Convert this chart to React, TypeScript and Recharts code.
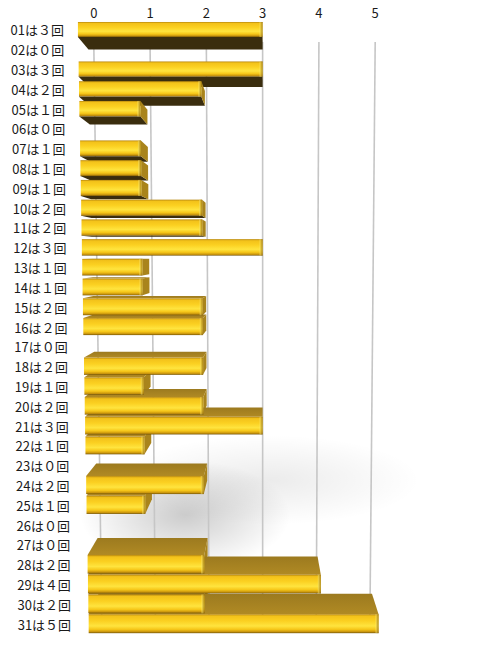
import React from 'react';
import { BarChart, Bar, XAxis, YAxis, CartesianGrid } from 'recharts';

const days = [
  '01', '02', '03', '04', '05', '06', '07', '08', '09', '10',
  '11', '12', '13', '14', '15', '16', '17', '18', '19', '20',
  '21', '22', '23', '24', '25', '26', '27', '28', '29', '30', '31',
];
const counts = [3, 0, 3, 2, 1, 0, 1, 1, 1, 2, 2, 3, 1, 1, 2, 2, 0, 2, 1, 2, 3, 1, 0, 2, 1, 0, 0, 2, 4, 2, 5];
const xTicks = [0, 1, 2, 3, 4, 5];

// full-width digit for the "は３回" part of the label
const wide = (n: number) => String.fromCharCode(0xff10 + n);

const data = days.map((d, i) => ({ label: `${d}は${wide(counts[i])}回`, value: counts[i] }));

// fake perspective: vanishing point and depth factor
const VX = 263;
const VY = 255;
const DEPTH = 0.057;
const PLOT_TOP = 20;
const PLOT_BOTTOM = 634;
// back wall (ticks + grid) sits further away, so it is squeezed toward VX
const WALL_TOP = 0.935;
const WALL_BOTTOM = 0.89;

const font = '"Noto Sans CJK JP", "Noto Sans", sans-serif';

const geom = (x: number, y: number, w: number, h: number) => {
  const yc = y + h / 2;
  const s = 1 + (VY - yc) * 0.0001;
  const t = (yc - PLOT_TOP) / (PLOT_BOTTOM - PLOT_TOP);
  const hh = h * (0.88 + 0.24 * t);
  return {
    yc,
    x0: VX + (x - VX) * s,
    x1: VX + (x + w - VX) * s,
    y0: yc - hh / 2,
    y1: yc + hh / 2,
  };
};

const back = (px: number, py: number) => [px + DEPTH * (VX - px), py + DEPTH * (VY - py)];

const pts = (list: number[][]) => list.map((p) => p.join(',')).join(' ');

const DepthShape = (props: any) => {
  const { x, y, width, height } = props;
  if (!width || width <= 0) return null;
  const g = geom(x, y, width, height);
  const faces = [];
  if (g.yc < VY) {
    faces.push(
      <polygon key="b" fill="#3a2d0e"
        points={pts([[g.x0, g.y1], [g.x1, g.y1], back(g.x1, g.y1), back(g.x0, g.y1)])} />
    );
  } else {
    faces.push(
      <polygon key="t" fill="url(#barTop)"
        points={pts([[g.x0, g.y0], [g.x1, g.y0], back(g.x1, g.y0), back(g.x0, g.y0)])} />
    );
  }
  if (g.x1 < VX) {
    faces.push(
      <polygon key="e" fill="#a9841c"
        points={pts([[g.x1, g.y0], [g.x1, g.y1], back(g.x1, g.y1), back(g.x1, g.y0)])} />
    );
  }
  return <g>{faces}</g>;
};

const FrontShape = (props: any) => {
  const { x, y, width, height } = props;
  if (!width || width <= 0) return null;
  const g = geom(x, y, width, height);
  return (
    <g>
      <rect x={g.x0} y={g.y0} width={g.x1 - g.x0} height={g.y1 - g.y0} fill="url(#barFront)" />
      <rect x={g.x1 - 3} y={g.y0} width={3} height={g.y1 - g.y0} fill="url(#barCap)" />
    </g>
  );
};

const DayTick = (props: any) => {
  const { y, payload } = props;
  const x = 64 + (y - 30) * 0.012;
  return (
    <text x={x} y={y} textAnchor="end" dominantBaseline="central"
      fontFamily={font} fontSize={13} fill="#1a1a1a">
      {payload.value}
    </text>
  );
};

const ValueTick = (props: any) => {
  const { x, payload } = props;
  return (
    <text x={VX + (x - VX) * WALL_TOP} y={18} textAnchor="middle"
      fontFamily={font} fontSize={13} fill="#1a1a1a">
      {payload.value}
    </text>
  );
};

const GridLine = (props: any) => {
  const { x1, index } = props;
  return (
    <line key={`g${index}`}
      x1={VX + (x1 - VX) * WALL_TOP} y1={42}
      x2={VX + (x1 - VX) * WALL_BOTTOM} y2={632}
      stroke="#c6c6c6" strokeWidth={1.6} />
  );
};

export default function App() {
  return (
    <div
      style={{
        position: 'absolute',
        left: 0,
        top: 0,
        width: 483,
        height: 646,
        background:
          'radial-gradient(ellipse 105px 55px at 185px 515px, rgba(0,0,0,0.2), rgba(0,0,0,0) 100%),' +
          'radial-gradient(ellipse 150px 45px at 270px 480px, rgba(0,0,0,0.08), rgba(0,0,0,0) 100%),' +
          '#ffffff',
      }}
    >
      <BarChart
        width={483}
        height={646}
        data={data}
        layout="vertical"
        margin={{ top: 0, right: 100, bottom: 12, left: 0 }}
        barSize={17}
      >
        <defs>
          <linearGradient id="barFront" x1="0" y1="0" x2="0" y2="1">
            <stop offset="0" stopColor="#b8880e" />
            <stop offset="0.1" stopColor="#f3c21a" />
            <stop offset="0.35" stopColor="#fbd021" />
            <stop offset="0.62" stopColor="#ffe43e" />
            <stop offset="0.8" stopColor="#f6c618" />
            <stop offset="0.93" stopColor="#c8930c" />
            <stop offset="1" stopColor="#6f5208" />
          </linearGradient>
          <linearGradient id="barTop" x1="0" y1="0" x2="0" y2="1">
            <stop offset="0" stopColor="#9c7a1f" />
            <stop offset="1" stopColor="#b08a24" />
          </linearGradient>
          <linearGradient id="barCap" x1="0" y1="0" x2="1" y2="0">
            <stop offset="0" stopColor="#ffec70" stopOpacity={0.6} />
            <stop offset="1" stopColor="#8a6408" stopOpacity={0.7} />
          </linearGradient>
        </defs>
        <CartesianGrid xAxisId="v" yAxisId="main" horizontal={false} vertical={GridLine} />
        <XAxis
          xAxisId="v"
          type="number"
          orientation="top"
          domain={[0, 5]}
          ticks={xTicks}
          height={20}
          axisLine={false}
          tickLine={false}
          tick={ValueTick}
        />
        <YAxis
          yAxisId="main"
          type="category"
          dataKey="label"
          width={82}
          axisLine={false}
          tickLine={false}
          interval={0}
          tick={DayTick}
        />
        <YAxis yAxisId="back" type="category" dataKey="label" hide />
        <Bar xAxisId="v" yAxisId="back" dataKey="value" shape={DepthShape} isAnimationActive={false} />
        <Bar xAxisId="v" yAxisId="main" dataKey="value" shape={FrontShape} isAnimationActive={false} />
      </BarChart>
    </div>
  );
}
